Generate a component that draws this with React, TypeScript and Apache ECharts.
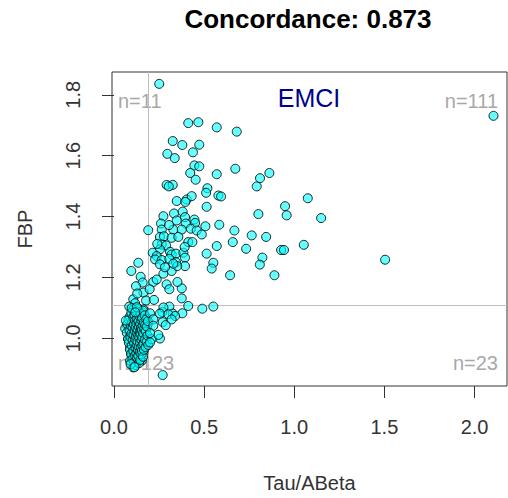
import React, { useEffect, useRef } from "react";
import * as echarts from "echarts";

const FONT = "'Liberation Sans', Arial, sans-serif";

const titleText = "Concordance: 0.873";
const groupLabel = "EMCI";
const xName = "Tau/ABeta";
const yName = "FBP";

const tauCut = 0.194;
const fbpCut = 1.109;

const xTicks = [0, 0.5, 1.0, 1.5, 2.0];
const yTicks = [1.0, 1.2, 1.4, 1.6, 1.8];

const quadrantCounts = { ul: 11, ur: 111, ll: 123, lr: 23 };

const upperLeft: number[][] = [
  [0.190, 1.355], [0.135, 1.248], [0.096, 1.221], [0.148, 1.202], [0.159, 1.183], [0.122, 1.171],
  [0.163, 1.150], [0.178, 1.124], [0.107, 1.128], [0.117, 1.115], [0.129, 1.147],
];

const upperRight: number[][] = [
  [0.251, 1.836], [0.412, 1.707], [0.468, 1.710], [0.570, 1.693], [0.681, 1.679], [0.326, 1.648], [0.379, 1.635], [0.473, 1.636], [0.296, 1.606], [0.337, 1.592],
  [0.438, 1.611], [0.446, 1.568], [0.473, 1.565], [0.423, 1.543], [0.570, 1.539], [0.453, 1.521], [0.673, 1.557], [0.862, 1.543], [0.810, 1.526], [0.792, 1.499],
  [0.292, 1.504], [0.326, 1.504], [0.304, 1.499], [0.518, 1.493], [0.511, 1.478], [0.579, 1.469], [0.594, 1.466], [0.348, 1.451], [0.403, 1.456], [0.431, 1.467],
  [0.396, 1.448], [0.514, 1.432], [0.949, 1.434], [0.958, 1.404], [0.801, 1.408], [0.274, 1.401], [0.333, 1.410], [0.381, 1.416], [0.394, 1.398], [0.446, 1.390],
  [2.105, 1.731], [1.075, 1.460], [1.149, 1.395], [0.764, 1.338], [0.844, 1.333], [0.733, 1.294], [0.927, 1.290], [0.943, 1.290], [1.053, 1.307], [0.823, 1.265],
  [0.809, 1.242], [0.890, 1.207], [1.504, 1.258],
  [0.261, 1.377], [0.348, 1.387], [0.398, 1.377], [0.450, 1.379], [0.507, 1.368], [0.584, 1.373], [0.668, 1.354], [0.265, 1.357], [0.329, 1.357], [0.376, 1.357],
  [0.426, 1.360], [0.459, 1.354], [0.487, 1.341], [0.255, 1.333], [0.277, 1.335], [0.320, 1.330], [0.357, 1.333], [0.412, 1.316], [0.435, 1.316], [0.265, 1.308],
  [0.289, 1.305], [0.255, 1.292], [0.311, 1.284], [0.570, 1.303], [0.659, 1.316], [0.215, 1.281], [0.237, 1.270], [0.320, 1.275], [0.344, 1.278], [0.385, 1.281],
  [0.514, 1.278], [0.228, 1.259], [0.265, 1.257], [0.307, 1.261], [0.344, 1.250], [0.394, 1.265], [0.551, 1.248], [0.542, 1.229],
  [0.274, 1.212], [0.320, 1.221], [0.394, 1.237], [0.351, 1.237], [0.644, 1.207],
  [0.218, 1.185], [0.237, 1.193], [0.292, 1.177], [0.307, 1.161], [0.376, 1.164], [0.198, 1.161],
  [0.222, 1.126], [0.376, 1.131],
  [0.255, 1.243], [0.329, 1.245], [0.283, 1.233],
  [0.305, 1.372], [0.392, 1.300], [0.352, 1.185], [0.240, 1.310],
];

const lowerRight: number[][] = [
  [0.200, 1.082], [0.268, 1.086], [0.307, 1.104], [0.412, 1.106], [0.379, 1.082], [0.326, 1.081], [0.490, 1.097], [0.551, 1.104], [0.270, 1.053], [0.287, 1.043],
  [0.255, 0.999], [0.209, 0.997], [0.270, 0.879], [0.274, 1.101], [0.255, 1.081], [0.301, 1.079], [0.339, 1.073], [0.218, 1.062], [0.218, 1.041], [0.320, 1.062],
  [0.246, 1.011], [0.200, 1.017], [0.200, 0.986],
];

const lowerLeft: number[][] = [
  [0.085, 1.104], [0.107, 1.095], [0.154, 1.086], [0.145, 0.935], [0.163, 1.095], [0.144, 1.073], [0.107, 1.068], [0.181, 1.068],
  [0.070, 1.043], [0.107, 1.051], [0.144, 1.046], [0.190, 1.049], [0.089, 1.019], [0.126, 1.021], [0.163, 1.013], [0.079, 0.997], [0.126, 0.991], [0.163, 0.986],
  [0.089, 0.970], [0.126, 0.964], [0.154, 0.970], [0.098, 0.948], [0.135, 0.942], [0.163, 0.953], [0.089, 0.926], [0.122, 0.920], [0.154, 0.926], [0.107, 0.904],
  [0.062, 1.032], [0.071, 1.018], [0.075, 1.046], [0.078, 0.998], [0.081, 1.062], [0.083, 0.985], [0.086, 1.027], [0.088, 1.071], [0.089, 0.962], [0.091, 1.004],
  [0.093, 1.041], [0.094, 0.948], [0.096, 1.083], [0.097, 1.015], [0.099, 0.976], [0.100, 1.052], [0.102, 0.931], [0.103, 1.034], [0.104, 0.992], [0.106, 1.068],
  [0.107, 0.958], [0.108, 1.011], [0.110, 1.045], [0.111, 0.921], [0.112, 0.983], [0.113, 1.077], [0.115, 1.024], [0.116, 0.944], [0.117, 1.058], [0.118, 0.997],
  [0.119, 0.968], [0.120, 1.036], [0.121, 0.912], [0.122, 1.089], [0.123, 1.006], [0.124, 0.951], [0.125, 1.049], [0.126, 0.979], [0.127, 1.019], [0.128, 0.936],
  [0.129, 1.064], [0.130, 0.989], [0.131, 1.029], [0.132, 0.962], [0.133, 1.097], [0.134, 1.008], [0.135, 0.942], [0.136, 1.055], [0.137, 0.973], [0.138, 1.038],
  [0.139, 0.918], [0.140, 1.002], [0.141, 1.072], [0.142, 0.955], [0.143, 1.021], [0.144, 0.986], [0.145, 1.047], [0.146, 0.929], [0.147, 1.013], [0.148, 1.081],
  [0.149, 0.969], [0.150, 1.033], [0.151, 0.947], [0.152, 1.059], [0.153, 0.994], [0.154, 1.026], [0.155, 0.958], [0.156, 1.067], [0.157, 1.004], [0.158, 0.977],
  [0.159, 1.042], [0.160, 1.091], [0.161, 0.939], [0.162, 1.017], [0.164, 0.983], [0.165, 1.052], [0.166, 0.962], [0.168, 1.031], [0.170, 1.075], [0.171, 0.995],
  [0.173, 1.044], [0.175, 0.971], [0.177, 1.022], [0.179, 1.062], [0.181, 0.988], [0.183, 1.038], [0.186, 1.009], [0.188, 1.056], [0.190, 0.978], [0.092, 0.915],
  [0.098, 1.099], [0.114, 0.905], [0.127, 1.102], [0.066, 1.058], [0.118, 1.085],
];

export default function App() {
  const ref = useRef<HTMLDivElement>(null);

  useEffect(() => {
    if (!ref.current) return;
    const chart = echarts.init(ref.current, undefined, { renderer: "svg" });
    const allPoints = [...upperLeft, ...upperRight, ...lowerLeft, ...lowerRight];
    const gray = "#a8a8a8";
    const labelStyle = { fontFamily: FONT, fontSize: 20, fill: gray };

    chart.setOption({
      animation: false,
      grid: {
        left: 112,
        right: 1,
        top: 72,
        bottom: 111,
        show: true,
        borderColor: "#333",
        borderWidth: 1,
        backgroundColor: "transparent",
      },
      xAxis: {
        type: "value",
        min: -0.011,
        max: 2.18,
        axisLine: { show: false },
        splitLine: { show: false },
        axisTick: { show: true, length: 12, customValues: xTicks, lineStyle: { color: "#333" } },
        axisLabel: {
          customValues: xTicks,
          formatter: (v: number) => v.toFixed(1),
          fontSize: 20,
          color: "#333",
          fontFamily: FONT,
          margin: 31,
        },
        name: xName,
        nameLocation: "middle",
        nameGap: 87,
        nameTextStyle: { fontSize: 20, color: "#333", fontFamily: FONT },
      },
      yAxis: {
        type: "value",
        min: 0.843,
        max: 1.875,
        axisLine: { show: false },
        splitLine: { show: false },
        axisTick: { show: true, length: 12, customValues: yTicks, lineStyle: { color: "#333" } },
        axisLabel: {
          customValues: yTicks,
          formatter: (v: number) => v.toFixed(1),
          fontSize: 20,
          color: "#333",
          fontFamily: FONT,
          rotate: 90,
          margin: 29,
        },
        name: yName,
        nameLocation: "middle",
        nameGap: 77,
        nameTextStyle: { fontSize: 20, color: "#333", fontFamily: FONT },
      },
      graphic: [
        {
          type: "text",
          x: 308,
          y: 19,
          style: {
            text: titleText,
            fontFamily: FONT,
            fontSize: 26,
            fontWeight: "bold",
            fill: "#000",
            align: "center",
            verticalAlign: "middle",
          },
        },
        {
          type: "text",
          x: 309,
          y: 98,
          z: 1,
          style: { text: groupLabel, fontFamily: FONT, fontSize: 25, fill: "#00008b", align: "center", verticalAlign: "middle" },
        },
        { type: "text", x: 118, y: 101, z: 1, style: { ...labelStyle, text: `n=${quadrantCounts.ul}`, align: "left", verticalAlign: "middle" } },
        { type: "text", x: 498, y: 101, z: 1, style: { ...labelStyle, text: `n=${quadrantCounts.ur}`, align: "right", verticalAlign: "middle" } },
        { type: "text", x: 118, y: 363, z: 1, style: { ...labelStyle, text: `n=${quadrantCounts.ll}`, align: "left", verticalAlign: "middle" } },
        { type: "text", x: 498, y: 363, z: 1, style: { ...labelStyle, text: `n=${quadrantCounts.lr}`, align: "right", verticalAlign: "middle" } },
      ],
      series: [
        {
          type: "scatter",
          data: [],
          z: 2,
          markLine: {
            silent: true,
            symbol: "none",
            label: { show: false },
            lineStyle: { color: "#bdbdbd", type: "solid", width: 1 },
            data: [{ xAxis: tauCut }, { yAxis: fbpCut }],
          },
        },
        {
          type: "scatter",
          data: allPoints,
          z: 10,
          symbol: "circle",
          symbolSize: 9,
          itemStyle: { color: "rgba(0,255,255,0.6)", borderColor: "rgba(0,0,0,0.85)", borderWidth: 1, opacity: 1 },
        },
      ],
    });

    return () => chart.dispose();
  }, []);

  return <div ref={ref} style={{ width: 508, height: 498, position: "absolute", left: 0, top: 0 }} />;
}
